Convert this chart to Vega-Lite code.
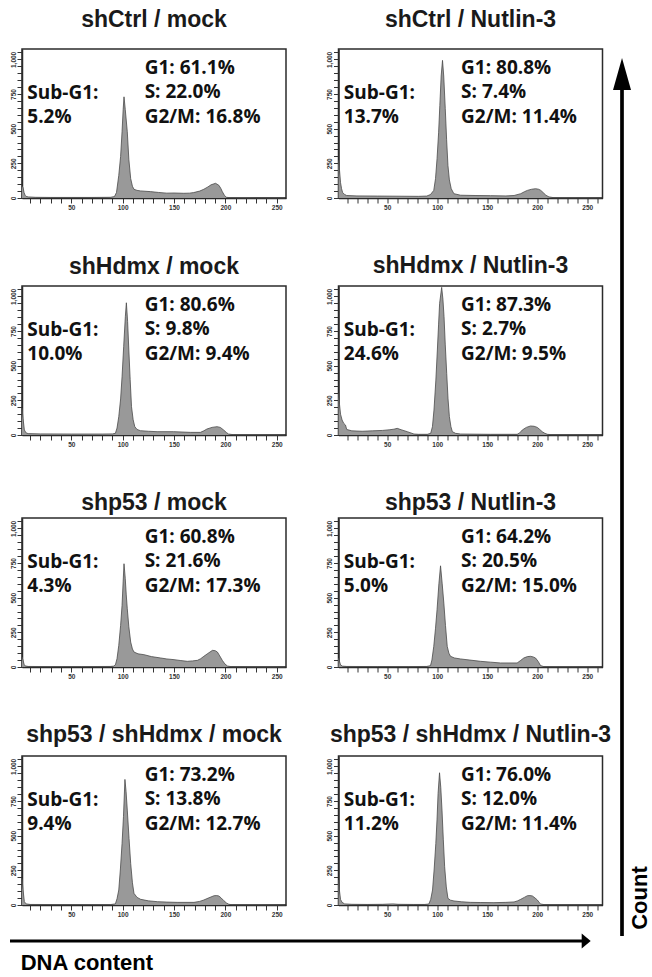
{
  "$schema": "https://vega.github.io/schema/vega-lite/v6.json",
  "background": "white",
  "padding": {"left": 8, "top": 8, "right": 0, "bottom": 0},
  "datasets": {
    "notes": [
      {"panel": 1, "subg1": "Sub-G1:\n5.2%", "phases": "G1: 61.1%\nS: 22.0%\nG2/M: 16.8%"},
      {"panel": 2, "subg1": "Sub-G1:\n13.7%", "phases": "G1: 80.8%\nS: 7.4%\nG2/M: 11.4%"},
      {"panel": 3, "subg1": "Sub-G1:\n10.0%", "phases": "G1: 80.6%\nS: 9.8%\nG2/M: 9.4%"},
      {"panel": 4, "subg1": "Sub-G1:\n24.6%", "phases": "G1: 87.3%\nS: 2.7%\nG2/M: 9.5%"},
      {"panel": 5, "subg1": "Sub-G1:\n4.3%", "phases": "G1: 60.8%\nS: 21.6%\nG2/M: 17.3%"},
      {"panel": 6, "subg1": "Sub-G1:\n5.0%", "phases": "G1: 64.2%\nS: 20.5%\nG2/M: 15.0%"},
      {"panel": 7, "subg1": "Sub-G1:\n9.4%", "phases": "G1: 73.2%\nS: 13.8%\nG2/M: 12.7%"},
      {"panel": 8, "subg1": "Sub-G1:\n11.2%", "phases": "G1: 76.0%\nS: 12.0%\nG2/M: 11.4%"}
    ],
    "hist": [
      {"panel":1,"dna":2,"count":85},{"panel":1,"dna":3,"count":75},{"panel":1,"dna":4,"count":40},{"panel":1,"dna":5,"count":20},{"panel":1,"dna":6,"count":12},{"panel":1,"dna":8,"count":8},{"panel":1,"dna":15,"count":5},{"panel":1,"dna":30,"count":4},{"panel":1,"dna":50,"count":4},{"panel":1,"dna":70,"count":4},{"panel":1,"dna":88,"count":5},{"panel":1,"dna":92,"count":10},{"panel":1,"dna":94,"count":40},{"panel":1,"dna":96.2,"count":163},{"panel":1,"dna":98,"count":300},{"panel":1,"dna":99.4,"count":478},{"panel":1,"dna":100.5,"count":640},{"panel":1,"dna":101.3,"count":730},{"panel":1,"dna":102.5,"count":640},{"panel":1,"dna":104.5,"count":478},{"panel":1,"dna":106,"count":280},{"panel":1,"dna":107.8,"count":140},{"panel":1,"dna":109.5,"count":85},{"panel":1,"dna":111,"count":63},{"panel":1,"dna":114,"count":55},{"panel":1,"dna":117.5,"count":51},{"panel":1,"dna":127,"count":46},{"panel":1,"dna":135,"count":40},{"panel":1,"dna":143,"count":35},{"panel":1,"dna":150,"count":36},{"panel":1,"dna":159.5,"count":34},{"panel":1,"dna":165,"count":35},{"panel":1,"dna":169,"count":39},{"panel":1,"dna":175,"count":50},{"panel":1,"dna":179,"count":63},{"panel":1,"dna":183,"count":80},{"panel":1,"dna":186,"count":95},{"panel":1,"dna":190.4,"count":106},{"panel":1,"dna":193.6,"count":92},{"panel":1,"dna":195.5,"count":70},{"panel":1,"dna":197,"count":46},{"panel":1,"dna":199,"count":20},{"panel":1,"dna":201,"count":5},{"panel":1,"dna":205,"count":2},{"panel":1,"dna":220,"count":1},{"panel":1,"dna":258,"count":0},
      {"panel":2,"dna":1.3,"count":272},{"panel":2,"dna":2.32,"count":200},{"panel":2,"dna":3.35,"count":110},{"panel":2,"dna":4.37,"count":67},{"panel":2,"dna":5.4,"count":40},{"panel":2,"dna":7.45,"count":25},{"panel":2,"dna":9.51,"count":18},{"panel":2,"dna":19.77,"count":15},{"panel":2,"dna":40.31,"count":14},{"panel":2,"dna":60.84,"count":13},{"panel":2,"dna":81.38,"count":12},{"panel":2,"dna":89.59,"count":14},{"panel":2,"dna":93.29,"count":25},{"panel":2,"dna":96.57,"count":55},{"panel":2,"dna":98.32,"count":140},{"panel":2,"dna":99.86,"count":284},{"panel":2,"dna":101.4,"count":470},{"panel":2,"dna":102.63,"count":668},{"panel":2,"dna":103.96,"count":880},{"panel":2,"dna":105.3,"count":993},{"panel":2,"dna":106.53,"count":880},{"panel":2,"dna":108.07,"count":644},{"panel":2,"dna":109.41,"count":420},{"panel":2,"dna":110.74,"count":235},{"panel":2,"dna":112.18,"count":130},{"panel":2,"dna":114.03,"count":67},{"panel":2,"dna":116.69,"count":31},{"panel":2,"dna":123.47,"count":20},{"panel":2,"dna":137.84,"count":18},{"panel":2,"dna":153.25,"count":17},{"panel":2,"dna":168.65,"count":15},{"panel":2,"dna":176.86,"count":18},{"panel":2,"dna":183.53,"count":31},{"panel":2,"dna":187.13,"count":45},{"panel":2,"dna":190.21,"count":55},{"panel":2,"dna":194.31,"count":63},{"panel":2,"dna":198.42,"count":67},{"panel":2,"dna":201.5,"count":63},{"panel":2,"dna":203.55,"count":55},{"panel":2,"dna":206.12,"count":38},{"panel":2,"dna":208.69,"count":20},{"panel":2,"dna":211.77,"count":8},{"panel":2,"dna":216.9,"count":2},{"panel":2,"dna":264.13,"count":0},
      {"panel":3,"dna":2,"count":195},{"panel":3,"dna":3,"count":120},{"panel":3,"dna":4.3,"count":36},{"panel":3,"dna":6,"count":15},{"panel":3,"dna":8,"count":10},{"panel":3,"dna":20,"count":8},{"panel":3,"dna":50,"count":7},{"panel":3,"dna":80,"count":7},{"panel":3,"dna":90,"count":8},{"panel":3,"dna":92.9,"count":12},{"panel":3,"dna":94.5,"count":50},{"panel":3,"dna":96.2,"count":132},{"panel":3,"dna":98,"count":260},{"panel":3,"dna":99.4,"count":420},{"panel":3,"dna":101,"count":640},{"panel":3,"dna":102.6,"count":853},{"panel":3,"dna":103.6,"count":954},{"panel":3,"dna":104.8,"count":820},{"panel":3,"dna":106,"count":613},{"panel":3,"dna":107.3,"count":400},{"panel":3,"dna":108.6,"count":204},{"panel":3,"dna":110.2,"count":110},{"panel":3,"dna":111.8,"count":60},{"panel":3,"dna":114,"count":40},{"panel":3,"dna":117.3,"count":31},{"panel":3,"dna":125,"count":27},{"panel":3,"dna":133.5,"count":24},{"panel":3,"dna":149.7,"count":24},{"panel":3,"dna":166,"count":19},{"panel":3,"dna":175.7,"count":19},{"panel":3,"dna":179,"count":30},{"panel":3,"dna":182,"count":43},{"panel":3,"dna":187,"count":55},{"panel":3,"dna":191.8,"count":60},{"panel":3,"dna":195,"count":55},{"panel":3,"dna":198.3,"count":36},{"panel":3,"dna":201,"count":18},{"panel":3,"dna":203,"count":7},{"panel":3,"dna":208,"count":2},{"panel":3,"dna":258,"count":0},
      {"panel":4,"dna":1.3,"count":300},{"panel":4,"dna":2.32,"count":220},{"panel":4,"dna":3.35,"count":150},{"panel":4,"dna":4.89,"count":108},{"panel":4,"dna":6.43,"count":85},{"panel":4,"dna":8.27,"count":72},{"panel":4,"dna":9.51,"count":40},{"panel":4,"dna":14.64,"count":30},{"panel":4,"dna":24.91,"count":27},{"panel":4,"dna":35.17,"count":30},{"panel":4,"dna":45.44,"count":33},{"panel":4,"dna":52.63,"count":38},{"panel":4,"dna":56.74,"count":42},{"panel":4,"dna":60.02,"count":48},{"panel":4,"dna":63.92,"count":38},{"panel":4,"dna":70.08,"count":24},{"panel":4,"dna":76.75,"count":7},{"panel":4,"dna":81.38,"count":5},{"panel":4,"dna":90.1,"count":5},{"panel":4,"dna":93.49,"count":12},{"panel":4,"dna":95.24,"count":60},{"panel":4,"dna":96.78,"count":180},{"panel":4,"dna":98.62,"count":390},{"panel":4,"dna":100.16,"count":613},{"panel":4,"dna":101.4,"count":800},{"panel":4,"dna":102.42,"count":950},{"panel":4,"dna":104.48,"count":1065},{"panel":4,"dna":105.71,"count":980},{"panel":4,"dna":106.84,"count":853},{"panel":4,"dna":108.07,"count":650},{"panel":4,"dna":109.51,"count":444},{"panel":4,"dna":110.84,"count":260},{"panel":4,"dna":112.18,"count":132},{"panel":4,"dna":113.72,"count":60},{"panel":4,"dna":115.15,"count":24},{"panel":4,"dna":118.34,"count":12},{"panel":4,"dna":123.47,"count":7},{"panel":4,"dna":153.25,"count":5},{"panel":4,"dna":179.94,"count":5},{"panel":4,"dna":182.5,"count":15},{"panel":4,"dna":185.07,"count":36},{"panel":4,"dna":189.18,"count":55},{"panel":4,"dna":193.29,"count":65},{"panel":4,"dna":196.88,"count":63},{"panel":4,"dna":200.06,"count":55},{"panel":4,"dna":202.53,"count":40},{"panel":4,"dna":204.99,"count":24},{"panel":4,"dna":207.66,"count":12},{"panel":4,"dna":210.23,"count":5},{"panel":4,"dna":214.85,"count":2},{"panel":4,"dna":264.13,"count":0},
      {"panel":5,"dna":2,"count":72},{"panel":5,"dna":3,"count":50},{"panel":5,"dna":4,"count":20},{"panel":5,"dna":5,"count":8},{"panel":5,"dna":8,"count":4},{"panel":5,"dna":30,"count":3},{"panel":5,"dna":60,"count":3},{"panel":5,"dna":88,"count":4},{"panel":5,"dna":91,"count":6},{"panel":5,"dna":92.9,"count":15},{"panel":5,"dna":94.5,"count":60},{"panel":5,"dna":96.2,"count":156},{"panel":5,"dna":98,"count":300},{"panel":5,"dna":99.4,"count":444},{"panel":5,"dna":100.5,"count":620},{"panel":5,"dna":101.3,"count":745},{"panel":5,"dna":102.5,"count":640},{"panel":5,"dna":103.5,"count":520},{"panel":5,"dna":104.5,"count":420},{"panel":5,"dna":106,"count":290},{"panel":5,"dna":107.8,"count":180},{"panel":5,"dna":109.5,"count":130},{"panel":5,"dna":111,"count":108},{"panel":5,"dna":115,"count":95},{"panel":5,"dna":120.7,"count":89},{"panel":5,"dna":128,"count":75},{"panel":5,"dna":137,"count":65},{"panel":5,"dna":143,"count":58},{"panel":5,"dna":150,"count":53},{"panel":5,"dna":156,"count":47},{"panel":5,"dna":163,"count":41},{"panel":5,"dna":168,"count":44},{"panel":5,"dna":172.8,"count":48},{"panel":5,"dna":176,"count":60},{"panel":5,"dna":179,"count":77},{"panel":5,"dna":183,"count":98},{"panel":5,"dna":187.4,"count":120},{"panel":5,"dna":190,"count":118},{"panel":5,"dna":192.2,"count":108},{"panel":5,"dna":194.5,"count":80},{"panel":5,"dna":197,"count":48},{"panel":5,"dna":199.5,"count":22},{"panel":5,"dna":202,"count":7},{"panel":5,"dna":206,"count":2},{"panel":5,"dna":258,"count":0},
      {"panel":6,"dna":1.3,"count":65},{"panel":6,"dna":2.32,"count":40},{"panel":6,"dna":3.35,"count":15},{"panel":6,"dna":5.4,"count":6},{"panel":6,"dna":9.51,"count":4},{"panel":6,"dna":40.31,"count":3},{"panel":6,"dna":71.11,"count":3},{"panel":6,"dna":89.59,"count":4},{"panel":6,"dna":93.29,"count":10},{"panel":6,"dna":94.72,"count":50},{"panel":6,"dna":96.57,"count":149},{"panel":6,"dna":98.32,"count":280},{"panel":6,"dna":99.86,"count":413},{"panel":6,"dna":101.7,"count":600},{"panel":6,"dna":103.34,"count":730},{"panel":6,"dna":104.99,"count":600},{"panel":6,"dna":106.63,"count":461},{"panel":6,"dna":108.28,"count":300},{"panel":6,"dna":110.02,"count":149},{"panel":6,"dna":111.66,"count":100},{"panel":6,"dna":113.31,"count":77},{"panel":6,"dna":117.31,"count":65},{"panel":6,"dna":123.37,"count":58},{"panel":6,"dna":132.71,"count":50},{"panel":6,"dna":143.29,"count":41},{"panel":6,"dna":153.25,"count":35},{"panel":6,"dna":163.31,"count":29},{"panel":6,"dna":171.73,"count":29},{"panel":6,"dna":179.94,"count":29},{"panel":6,"dna":183.02,"count":45},{"panel":6,"dna":186.61,"count":65},{"panel":6,"dna":190.21,"count":75},{"panel":6,"dna":193.29,"count":77},{"panel":6,"dna":195.85,"count":73},{"panel":6,"dna":198.32,"count":65},{"panel":6,"dna":200.99,"count":40},{"panel":6,"dna":203.35,"count":10},{"panel":6,"dna":206.63,"count":3},{"panel":6,"dna":264.13,"count":0},
      {"panel":7,"dna":2,"count":192},{"panel":7,"dna":3,"count":110},{"panel":7,"dna":4.3,"count":24},{"panel":7,"dna":6,"count":8},{"panel":7,"dna":10,"count":4},{"panel":7,"dna":40,"count":3},{"panel":7,"dna":70,"count":3},{"panel":7,"dna":88,"count":3},{"panel":7,"dna":92.9,"count":8},{"panel":7,"dna":94.5,"count":45},{"panel":7,"dna":96.2,"count":108},{"panel":7,"dna":97.8,"count":260},{"panel":7,"dna":99.4,"count":444},{"panel":7,"dna":100.8,"count":640},{"panel":7,"dna":102.2,"count":906},{"panel":7,"dna":103.3,"count":820},{"panel":7,"dna":104.5,"count":685},{"panel":7,"dna":106.2,"count":480},{"panel":7,"dna":107.8,"count":300},{"panel":7,"dna":109.5,"count":160},{"panel":7,"dna":111,"count":84},{"panel":7,"dna":114,"count":55},{"panel":7,"dna":117.5,"count":41},{"panel":7,"dna":125,"count":30},{"panel":7,"dna":133.7,"count":24},{"panel":7,"dna":143,"count":21},{"panel":7,"dna":153,"count":19},{"panel":7,"dna":169.4,"count":19},{"panel":7,"dna":175,"count":26},{"panel":7,"dna":179,"count":36},{"panel":7,"dna":184,"count":52},{"panel":7,"dna":189,"count":67},{"panel":7,"dna":191.5,"count":68},{"panel":7,"dna":193.6,"count":65},{"panel":7,"dna":196,"count":50},{"panel":7,"dna":198.5,"count":31},{"panel":7,"dna":201,"count":15},{"panel":7,"dna":203.4,"count":5},{"panel":7,"dna":207,"count":2},{"panel":7,"dna":258,"count":0},
      {"panel":8,"dna":1.3,"count":180},{"panel":8,"dna":2.32,"count":100},{"panel":8,"dna":3.35,"count":40},{"panel":8,"dna":4.89,"count":19},{"panel":8,"dna":7.45,"count":8},{"panel":8,"dna":14.64,"count":5},{"panel":8,"dna":30.04,"count":4},{"panel":8,"dna":45.44,"count":5},{"panel":8,"dna":55.71,"count":8},{"panel":8,"dna":60.84,"count":5},{"panel":8,"dna":76.24,"count":4},{"panel":8,"dna":87.54,"count":4},{"panel":8,"dna":91.64,"count":7},{"panel":8,"dna":93.49,"count":40},{"panel":8,"dna":95.34,"count":108},{"panel":8,"dna":96.98,"count":260},{"panel":8,"dna":98.62,"count":444},{"panel":8,"dna":99.86,"count":620},{"panel":8,"dna":100.88,"count":805},{"panel":8,"dna":102.32,"count":954},{"panel":8,"dna":103.55,"count":850},{"panel":8,"dna":104.79,"count":685},{"panel":8,"dna":106.12,"count":470},{"panel":8,"dna":107.45,"count":276},{"panel":8,"dna":109.1,"count":130},{"panel":8,"dna":110.74,"count":48},{"panel":8,"dna":113.2,"count":35},{"panel":8,"dna":116.8,"count":29},{"panel":8,"dna":124.5,"count":23},{"panel":8,"dna":133.43,"count":19},{"panel":8,"dna":142.98,"count":18},{"panel":8,"dna":156.74,"count":17},{"panel":8,"dna":168.65,"count":19},{"panel":8,"dna":176.86,"count":22},{"panel":8,"dna":180.45,"count":30},{"panel":8,"dna":183.53,"count":41},{"panel":8,"dna":187.13,"count":55},{"panel":8,"dna":190.21,"count":67},{"panel":8,"dna":192.77,"count":68},{"panel":8,"dna":195.24,"count":65},{"panel":8,"dna":197.91,"count":50},{"panel":8,"dna":200.17,"count":36},{"panel":8,"dna":202.01,"count":18},{"panel":8,"dna":203.55,"count":7},{"panel":8,"dna":207.66,"count":2},{"panel":8,"dna":264.13,"count":0}
    ]
  },
  "spacing": 1,
  "hconcat": [
    {
      "spacing": 14,
      "vconcat": [
        {
          "spacing": 42,
          "align": "none",
          "vconcat": [
            {"spacing": 37.5, "hconcat": [
              {"width": 264, "height": 149, "title": {"text": "shCtrl / mock", "offset": 17},
               "layer": [
                {"data": {"name": "hist"}, "transform": [{"filter": "datum.panel === 1"}], "mark": {"type": "area", "color": "#999999", "opacity": 1, "line": {"color": "#4a4a4a", "strokeWidth": 0.8}},
                 "encoding": {"x": {"field": "dna", "type": "quantitative", "scale": {"domain": [2, 259], "nice": false, "zero": false}, "axis": {"values": [10,20,30,40,50,60,70,80,90,100,110,120,130,140,150,160,170,180,190,200,210,220,230,240,250], "tickCount": 100, "labelExpr": "datum.value % 50 === 0 ? datum.label : ''", "labelOverlap": false, "labelFlush": false, "title": null}},
                  "y": {"field": "count", "type": "quantitative", "scale": {"domain": [0, 1075], "nice": false}, "axis": {"values": [0,50,100,150,200,250,300,350,400,450,500,550,600,650,700,750,800,850,900,950,1000,1050], "tickCount": 100, "labelExpr": "datum.value % 250 === 0 ? format(datum.value, ',') : ''", "labelOverlap": false, "labelFlush": false, "labelAngle": 270, "title": null}}}},
                {"data": {"name": "notes"}, "transform": [{"filter": "datum.panel === 1"}], "mark": {"type": "text", "align": "left", "baseline": "middle", "lineBreak": "\n", "lineHeight": 24.5}, "encoding": {"x": {"datum": 121.4}, "y": {"datum": 938}, "text": {"field": "phases"}}},
                {"data": {"name": "notes"}, "transform": [{"filter": "datum.panel === 1"}], "mark": {"type": "text", "align": "left", "baseline": "middle", "lineBreak": "\n", "lineHeight": 24.5}, "encoding": {"x": {"datum": 7.2}, "y": {"datum": 761}, "text": {"field": "subg1"}}}
               ]},
              {"width": 264, "height": 149, "title": {"text": "shCtrl / Nutlin-3", "offset": 17},
               "layer": [
                {"data": {"name": "hist"}, "transform": [{"filter": "datum.panel === 2"}], "mark": {"type": "area", "color": "#999999", "opacity": 1, "line": {"color": "#4a4a4a", "strokeWidth": 0.8}},
                 "encoding": {"x": {"field": "dna", "type": "quantitative", "scale": {"domain": [1.3, 265.3], "nice": false, "zero": false}, "axis": {"values": [10,20,30,40,50,60,70,80,90,100,110,120,130,140,150,160,170,180,190,200,210,220,230,240,250,260], "tickCount": 100, "labelExpr": "datum.value % 50 === 0 ? datum.label : ''", "labelOverlap": false, "labelFlush": false, "title": null}},
                  "y": {"field": "count", "type": "quantitative", "scale": {"domain": [0, 1075], "nice": false}, "axis": {"values": [0,50,100,150,200,250,300,350,400,450,500,550,600,650,700,750,800,850,900,950,1000,1050], "tickCount": 100, "labelExpr": "datum.value % 250 === 0 ? format(datum.value, ',') : ''", "labelOverlap": false, "labelFlush": false, "labelAngle": 270, "title": null}}}},
                {"data": {"name": "notes"}, "transform": [{"filter": "datum.panel === 2"}], "mark": {"type": "text", "align": "left", "baseline": "middle", "lineBreak": "\n", "lineHeight": 24.5}, "encoding": {"x": {"datum": 123.9}, "y": {"datum": 938}, "text": {"field": "phases"}}},
                {"data": {"name": "notes"}, "transform": [{"filter": "datum.panel === 2"}], "mark": {"type": "text", "align": "left", "baseline": "middle", "lineBreak": "\n", "lineHeight": 24.5}, "encoding": {"x": {"datum": 6.6}, "y": {"datum": 761}, "text": {"field": "subg1"}}}
               ]}
            ]},
            {"spacing": 37.5, "hconcat": [
              {"width": 264, "height": 149, "title": {"text": "shHdmx / mock", "offset": 7.5},
               "layer": [
                {"data": {"name": "hist"}, "transform": [{"filter": "datum.panel === 3"}], "mark": {"type": "area", "color": "#999999", "opacity": 1, "line": {"color": "#4a4a4a", "strokeWidth": 0.8}},
                 "encoding": {"x": {"field": "dna", "type": "quantitative", "scale": {"domain": [2, 259], "nice": false, "zero": false}, "axis": {"values": [10,20,30,40,50,60,70,80,90,100,110,120,130,140,150,160,170,180,190,200,210,220,230,240,250], "tickCount": 100, "labelExpr": "datum.value % 50 === 0 ? datum.label : ''", "labelOverlap": false, "labelFlush": false, "title": null}},
                  "y": {"field": "count", "type": "quantitative", "scale": {"domain": [0, 1075], "nice": false}, "axis": {"values": [0,50,100,150,200,250,300,350,400,450,500,550,600,650,700,750,800,850,900,950,1000,1050], "tickCount": 100, "labelExpr": "datum.value % 250 === 0 ? format(datum.value, ',') : ''", "labelOverlap": false, "labelFlush": false, "labelAngle": 270, "title": null}}}},
                {"data": {"name": "notes"}, "transform": [{"filter": "datum.panel === 3"}], "mark": {"type": "text", "align": "left", "baseline": "middle", "lineBreak": "\n", "lineHeight": 24.5}, "encoding": {"x": {"datum": 121.4}, "y": {"datum": 938}, "text": {"field": "phases"}}},
                {"data": {"name": "notes"}, "transform": [{"filter": "datum.panel === 3"}], "mark": {"type": "text", "align": "left", "baseline": "middle", "lineBreak": "\n", "lineHeight": 24.5}, "encoding": {"x": {"datum": 7.2}, "y": {"datum": 761}, "text": {"field": "subg1"}}}
               ]},
              {"width": 264, "height": 149, "title": {"text": "shHdmx / Nutlin-3", "offset": 7.5},
               "layer": [
                {"data": {"name": "hist"}, "transform": [{"filter": "datum.panel === 4"}], "mark": {"type": "area", "color": "#999999", "opacity": 1, "line": {"color": "#4a4a4a", "strokeWidth": 0.8}},
                 "encoding": {"x": {"field": "dna", "type": "quantitative", "scale": {"domain": [1.3, 265.3], "nice": false, "zero": false}, "axis": {"values": [10,20,30,40,50,60,70,80,90,100,110,120,130,140,150,160,170,180,190,200,210,220,230,240,250,260], "tickCount": 100, "labelExpr": "datum.value % 50 === 0 ? datum.label : ''", "labelOverlap": false, "labelFlush": false, "title": null}},
                  "y": {"field": "count", "type": "quantitative", "scale": {"domain": [0, 1075], "nice": false}, "axis": {"values": [0,50,100,150,200,250,300,350,400,450,500,550,600,650,700,750,800,850,900,950,1000,1050], "tickCount": 100, "labelExpr": "datum.value % 250 === 0 ? format(datum.value, ',') : ''", "labelOverlap": false, "labelFlush": false, "labelAngle": 270, "title": null}}}},
                {"data": {"name": "notes"}, "transform": [{"filter": "datum.panel === 4"}], "mark": {"type": "text", "align": "left", "baseline": "middle", "lineBreak": "\n", "lineHeight": 24.5}, "encoding": {"x": {"datum": 123.9}, "y": {"datum": 938}, "text": {"field": "phases"}}},
                {"data": {"name": "notes"}, "transform": [{"filter": "datum.panel === 4"}], "mark": {"type": "text", "align": "left", "baseline": "middle", "lineBreak": "\n", "lineHeight": 24.5}, "encoding": {"x": {"datum": 6.6}, "y": {"datum": 761}, "text": {"field": "subg1"}}}
               ]}
            ]},
            {"spacing": 37.5, "hconcat": [
              {"width": 264, "height": 149, "title": {"text": "shp53 / mock", "offset": 3},
               "layer": [
                {"data": {"name": "hist"}, "transform": [{"filter": "datum.panel === 5"}], "mark": {"type": "area", "color": "#999999", "opacity": 1, "line": {"color": "#4a4a4a", "strokeWidth": 0.8}},
                 "encoding": {"x": {"field": "dna", "type": "quantitative", "scale": {"domain": [2, 259], "nice": false, "zero": false}, "axis": {"values": [10,20,30,40,50,60,70,80,90,100,110,120,130,140,150,160,170,180,190,200,210,220,230,240,250], "tickCount": 100, "labelExpr": "datum.value % 50 === 0 ? datum.label : ''", "labelOverlap": false, "labelFlush": false, "title": null}},
                  "y": {"field": "count", "type": "quantitative", "scale": {"domain": [0, 1075], "nice": false}, "axis": {"values": [0,50,100,150,200,250,300,350,400,450,500,550,600,650,700,750,800,850,900,950,1000,1050], "tickCount": 100, "labelExpr": "datum.value % 250 === 0 ? format(datum.value, ',') : ''", "labelOverlap": false, "labelFlush": false, "labelAngle": 270, "title": null}}}},
                {"data": {"name": "notes"}, "transform": [{"filter": "datum.panel === 5"}], "mark": {"type": "text", "align": "left", "baseline": "middle", "lineBreak": "\n", "lineHeight": 24.5}, "encoding": {"x": {"datum": 121.4}, "y": {"datum": 938}, "text": {"field": "phases"}}},
                {"data": {"name": "notes"}, "transform": [{"filter": "datum.panel === 5"}], "mark": {"type": "text", "align": "left", "baseline": "middle", "lineBreak": "\n", "lineHeight": 24.5}, "encoding": {"x": {"datum": 7.2}, "y": {"datum": 761}, "text": {"field": "subg1"}}}
               ]},
              {"width": 264, "height": 149, "title": {"text": "shp53 / Nutlin-3", "offset": 3},
               "layer": [
                {"data": {"name": "hist"}, "transform": [{"filter": "datum.panel === 6"}], "mark": {"type": "area", "color": "#999999", "opacity": 1, "line": {"color": "#4a4a4a", "strokeWidth": 0.8}},
                 "encoding": {"x": {"field": "dna", "type": "quantitative", "scale": {"domain": [1.3, 265.3], "nice": false, "zero": false}, "axis": {"values": [10,20,30,40,50,60,70,80,90,100,110,120,130,140,150,160,170,180,190,200,210,220,230,240,250,260], "tickCount": 100, "labelExpr": "datum.value % 50 === 0 ? datum.label : ''", "labelOverlap": false, "labelFlush": false, "title": null}},
                  "y": {"field": "count", "type": "quantitative", "scale": {"domain": [0, 1075], "nice": false}, "axis": {"values": [0,50,100,150,200,250,300,350,400,450,500,550,600,650,700,750,800,850,900,950,1000,1050], "tickCount": 100, "labelExpr": "datum.value % 250 === 0 ? format(datum.value, ',') : ''", "labelOverlap": false, "labelFlush": false, "labelAngle": 270, "title": null}}}},
                {"data": {"name": "notes"}, "transform": [{"filter": "datum.panel === 6"}], "mark": {"type": "text", "align": "left", "baseline": "middle", "lineBreak": "\n", "lineHeight": 24.5}, "encoding": {"x": {"datum": 123.9}, "y": {"datum": 938}, "text": {"field": "phases"}}},
                {"data": {"name": "notes"}, "transform": [{"filter": "datum.panel === 6"}], "mark": {"type": "text", "align": "left", "baseline": "middle", "lineBreak": "\n", "lineHeight": 24.5}, "encoding": {"x": {"datum": 6.6}, "y": {"datum": 761}, "text": {"field": "subg1"}}}
               ]}
            ]},
            {"spacing": 37.5, "hconcat": [
              {"width": 264, "height": 149, "title": {"text": "shp53 / shHdmx / mock", "offset": 9},
               "layer": [
                {"data": {"name": "hist"}, "transform": [{"filter": "datum.panel === 7"}], "mark": {"type": "area", "color": "#999999", "opacity": 1, "line": {"color": "#4a4a4a", "strokeWidth": 0.8}},
                 "encoding": {"x": {"field": "dna", "type": "quantitative", "scale": {"domain": [2, 259], "nice": false, "zero": false}, "axis": {"values": [10,20,30,40,50,60,70,80,90,100,110,120,130,140,150,160,170,180,190,200,210,220,230,240,250], "tickCount": 100, "labelExpr": "datum.value % 50 === 0 ? datum.label : ''", "labelOverlap": false, "labelFlush": false, "title": null}},
                  "y": {"field": "count", "type": "quantitative", "scale": {"domain": [0, 1075], "nice": false}, "axis": {"values": [0,50,100,150,200,250,300,350,400,450,500,550,600,650,700,750,800,850,900,950,1000,1050], "tickCount": 100, "labelExpr": "datum.value % 250 === 0 ? format(datum.value, ',') : ''", "labelOverlap": false, "labelFlush": false, "labelAngle": 270, "title": null}}}},
                {"data": {"name": "notes"}, "transform": [{"filter": "datum.panel === 7"}], "mark": {"type": "text", "align": "left", "baseline": "middle", "lineBreak": "\n", "lineHeight": 24.5}, "encoding": {"x": {"datum": 121.4}, "y": {"datum": 938}, "text": {"field": "phases"}}},
                {"data": {"name": "notes"}, "transform": [{"filter": "datum.panel === 7"}], "mark": {"type": "text", "align": "left", "baseline": "middle", "lineBreak": "\n", "lineHeight": 24.5}, "encoding": {"x": {"datum": 7.2}, "y": {"datum": 761}, "text": {"field": "subg1"}}}
               ]},
              {"width": 264, "height": 149, "title": {"text": "shp53 / shHdmx / Nutlin-3", "offset": 9},
               "layer": [
                {"data": {"name": "hist"}, "transform": [{"filter": "datum.panel === 8"}], "mark": {"type": "area", "color": "#999999", "opacity": 1, "line": {"color": "#4a4a4a", "strokeWidth": 0.8}},
                 "encoding": {"x": {"field": "dna", "type": "quantitative", "scale": {"domain": [1.3, 265.3], "nice": false, "zero": false}, "axis": {"values": [10,20,30,40,50,60,70,80,90,100,110,120,130,140,150,160,170,180,190,200,210,220,230,240,250,260], "tickCount": 100, "labelExpr": "datum.value % 50 === 0 ? datum.label : ''", "labelOverlap": false, "labelFlush": false, "title": null}},
                  "y": {"field": "count", "type": "quantitative", "scale": {"domain": [0, 1075], "nice": false}, "axis": {"values": [0,50,100,150,200,250,300,350,400,450,500,550,600,650,700,750,800,850,900,950,1000,1050], "tickCount": 100, "labelExpr": "datum.value % 250 === 0 ? format(datum.value, ',') : ''", "labelOverlap": false, "labelFlush": false, "labelAngle": 270, "title": null}}}},
                {"data": {"name": "notes"}, "transform": [{"filter": "datum.panel === 8"}], "mark": {"type": "text", "align": "left", "baseline": "middle", "lineBreak": "\n", "lineHeight": 24.5}, "encoding": {"x": {"datum": 123.9}, "y": {"datum": 938}, "text": {"field": "phases"}}},
                {"data": {"name": "notes"}, "transform": [{"filter": "datum.panel === 8"}], "mark": {"type": "text", "align": "left", "baseline": "middle", "lineBreak": "\n", "lineHeight": 24.5}, "encoding": {"x": {"datum": 6.6}, "y": {"datum": 761}, "text": {"field": "subg1"}}}
               ]}
            ]}
          ]
        },
        {
          "width": 569, "height": 40, "view": {"stroke": null},
          "layer": [
            {"data": {"values": [{}]}, "mark": {"type": "rule", "strokeWidth": 3.2, "color": "#000"},
             "encoding": {"x": {"datum": -12, "type": "quantitative", "scale": {"domain": [0, 569], "nice": false, "zero": false}, "axis": null}, "x2": {"datum": 560}, "y": {"datum": 35, "type": "quantitative", "scale": {"domain": [0, 40], "nice": false}, "axis": null}}},
            {"data": {"values": [{}]}, "mark": {"type": "point", "shape": "M-0.6,-1L0.6,0L-0.6,1Z", "size": 225, "filled": true, "opacity": 1, "color": "#000", "strokeWidth": 0},
             "encoding": {"x": {"datum": 564.2}, "y": {"datum": 35}}},
            {"data": {"values": [{}]}, "mark": {"type": "text", "text": "DNA content", "font": "Liberation Sans", "fontSize": 22, "fontWeight": "bold", "align": "left", "baseline": "alphabetic", "color": "#000"},
             "encoding": {"x": {"datum": -1.3}, "y": {"datum": 6}}}
          ]
        }
      ]
    },
    {
      "width": 18, "height": 887, "view": {"stroke": null},
      "layer": [
        {"data": {"values": [{}]}, "mark": {"type": "rule", "strokeWidth": 3.7, "color": "#000"},
         "encoding": {"x": {"datum": 9, "type": "quantitative", "scale": {"domain": [0, 18], "nice": false, "zero": false}, "axis": null}, "y": {"datum": 0, "type": "quantitative", "scale": {"domain": [0, 887], "nice": false}, "axis": null}, "y2": {"datum": 862}}},
        {"data": {"values": [{}]}, "mark": {"type": "point", "shape": "M0,-1L0.5625,1L-0.5625,1Z", "size": 1024, "filled": true, "opacity": 1, "color": "#000", "strokeWidth": 0},
         "encoding": {"x": {"datum": 9}, "y": {"datum": 862}}},
        {"data": {"values": [{}]}, "mark": {"type": "text", "text": "Count", "angle": 270, "font": "Liberation Sans", "fontSize": 22, "fontWeight": "bold", "align": "center", "baseline": "middle", "color": "#000"},
         "encoding": {"x": {"datum": 26.5}, "y": {"datum": 38}}}
      ]
    }
  ],
  "config": {
    "view": {"stroke": "#2b2b2b", "strokeWidth": 1.5},
    "axis": {"domainColor": "#2b2b2b", "domainWidth": 1.5, "tickColor": "#333", "tickSize": 5, "tickWidth": 1, "labelFont": "Liberation Sans", "labelFontSize": 6.5, "labelFontWeight": "bold", "labelColor": "#333", "labelPadding": 1, "grid": false, "labelOverlap": false, "labelFlush": false},
    "title": {"font": "Liberation Sans", "fontSize": 23, "fontWeight": "bold", "color": "#1a1a1a", "frame": "group", "anchor": "middle", "baseline": "alphabetic"},
    "text": {"font": "Open Sans", "fontSize": 19, "fontWeight": "bold", "color": "#111"}
  }
}
